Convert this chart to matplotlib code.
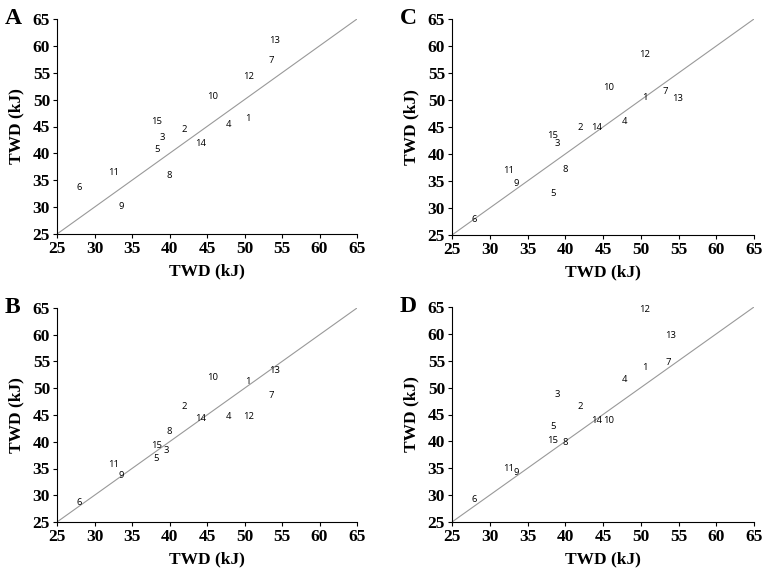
import matplotlib
matplotlib.use("Agg")
import matplotlib.pyplot as plt

# point ids and TWD values
ids = [1, 2, 3, 4, 5, 6, 7, 8, 9, 10, 11, 12, 13, 14, 15]
x_twd = [50.5, 42.0, 39.0, 47.8, 38.4, 27.9, 53.6, 40.0, 33.5, 45.7, 32.5, 50.5, 54.0, 44.1, 38.3]

y_A = [46.4, 44.4, 43.0, 45.3, 40.8, 33.7, 57.2, 35.9, 30.1, 50.6, 36.5, 54.3, 61.0, 41.9, 46.0]
y_B = [51.2, 46.5, 38.1, 44.7, 37.2, 28.7, 48.7, 42.0, 33.6, 52.0, 35.8, 44.8, 53.3, 44.4, 39.3]
y_C = [50.4, 45.0, 42.0, 46.0, 32.6, 27.8, 51.1, 37.2, 34.6, 52.4, 36.9, 58.4, 50.5, 45.0, 43.4]
y_D = [53.8, 46.4, 48.8, 51.5, 42.7, 29.2, 54.6, 39.8, 34.2, 43.8, 34.9, 64.5, 59.7, 43.8, 40.2]

ticks = [25, 30, 35, 40, 45, 50, 55, 60, 65]

fig = plt.figure(figsize=(7.64, 5.71), dpi=100)
W, H = 764, 571
# axes boxes in pixels: left, top, right, bottom
boxes = {
    "A": (57, 19, 357, 234),
    "C": (452, 19, 754, 235),
    "B": (57, 308, 357, 522),
    "D": (452, 307, 754, 522),
}
panels = {"A": y_A, "B": y_B, "C": y_C, "D": y_D}
# small label nudges (points) where labels crowd each other
nudge = {("C", 13): (5, -1), ("C", 7): (-2, 2), ("B", 3): (3, 1), ("B", 5): (-1, -1)}

serif = ["Liberation Serif", "DejaVu Serif"]

for name, (l, t, r, b) in boxes.items():
    ax = fig.add_axes([l / W, 1 - b / H, (r - l) / W, (b - t) / H])
    ax.plot([25, 65], [25, 65], color="#999999", lw=0.8)
    for i, xv, yv in zip(ids, x_twd, panels[name]):
        dx, dy = nudge.get((name, i), (0, 0))
        ax.annotate(str(i), (xv, yv), xytext=(dx, dy), textcoords="offset points",
                    fontsize=6.8, ha="center", va="center",
                    family=["Open Sans", "DejaVu Sans"])
    ax.set_xlim(25, 65)
    ax.set_ylim(25, 65)
    ax.set_xticks(ticks)
    ax.set_yticks(ticks)
    for lab in ax.get_xticklabels() + ax.get_yticklabels():
        lab.set_family(serif)
        lab.set_fontweight("bold")
        lab.set_fontsize(12.5)
    ax.tick_params(direction="out", length=3, width=0.8, pad=2)
    ax.spines["top"].set_visible(False)
    ax.spines["right"].set_visible(False)
    ax.set_xlabel("TWD (kJ)", family=serif, fontweight="bold", fontsize=12.5, labelpad=5)
    ax.set_ylabel("TWD (kJ)", family=serif, fontweight="bold", fontsize=12.5, labelpad=6)
    fig.text((l - 52) / W, 1 - (t - 1) / H, name, family=serif, fontweight="bold",
             fontsize=17, ha="left", va="center")

fig.savefig("out.png", dpi=100)
